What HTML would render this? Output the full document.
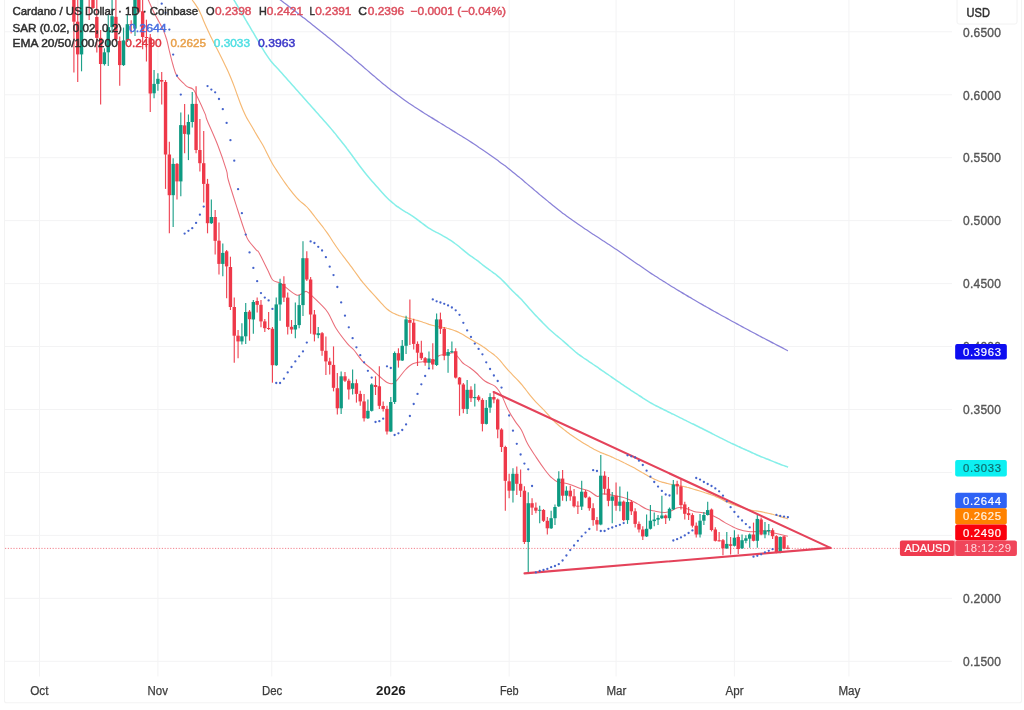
<!DOCTYPE html>
<html><head><meta charset="utf-8"><title>ADAUSD</title>
<style>
html,body{margin:0;padding:0;background:#fff;}
body{width:1024px;height:710px;overflow:hidden;position:relative;font-family:"Liberation Sans",sans-serif;}
svg{position:absolute;left:0;top:0;display:block;}
text{font-family:"Liberation Sans",sans-serif;}
</style></head><body>
<svg width="1024" height="710" viewBox="0 0 1024 710">
<defs><filter id="bl" x="-2%" y="-2%" width="104%" height="104%"><feGaussianBlur stdDeviation="0.5"/></filter>
<filter id="bt" x="-2%" y="-10%" width="104%" height="120%"><feGaussianBlur stdDeviation="0.3"/></filter></defs>
<rect x="0" y="0" width="1024" height="710" fill="#ffffff"/>

<rect x="4.5" y="-3" width="1017" height="705.8" rx="2" fill="#ffffff" stroke="#f3f3f3" stroke-width="1.1"/>
<g stroke="#f3f3f4" stroke-width="1" fill="none">
<line x1="5" y1="31.80" x2="952" y2="31.80"/>
<line x1="5" y1="94.75" x2="952" y2="94.75"/>
<line x1="5" y1="157.70" x2="952" y2="157.70"/>
<line x1="5" y1="220.65" x2="952" y2="220.65"/>
<line x1="5" y1="283.60" x2="952" y2="283.60"/>
<line x1="5" y1="346.55" x2="952" y2="346.55"/>
<line x1="5" y1="409.50" x2="952" y2="409.50"/>
<line x1="5" y1="472.45" x2="952" y2="472.45"/>
<line x1="5" y1="535.40" x2="952" y2="535.40"/>
<line x1="5" y1="598.35" x2="952" y2="598.35"/>
<line x1="5" y1="661.30" x2="952" y2="661.30"/>
<line x1="39.54" y1="0" x2="39.54" y2="676.5"/>
<line x1="157.90" y1="0" x2="157.90" y2="676.5"/>
<line x1="271.80" y1="0" x2="271.80" y2="676.5"/>
<line x1="390.79" y1="0" x2="390.79" y2="676.5"/>
<line x1="509.15" y1="0" x2="509.15" y2="676.5"/>
<line x1="616.06" y1="0" x2="616.06" y2="676.5"/>
<line x1="734.41" y1="0" x2="734.41" y2="676.5"/>
<line x1="848.95" y1="0" x2="848.95" y2="676.5"/>
</g>
<g filter="url(#bl)">
<path d="M274.0,-5.0C274.8,-4.3 277.3,-2.4 279.0,-1.1C280.7,0.2 282.3,1.4 284.0,2.7C285.7,3.9 287.3,5.2 289.0,6.5C290.7,7.7 292.3,9.0 294.0,10.3C295.7,11.6 297.3,12.9 299.0,14.2C300.7,15.5 302.3,16.8 304.0,18.1C305.7,19.4 307.3,20.7 309.0,22.0C310.7,23.3 312.3,24.6 314.0,25.9C315.7,27.3 317.3,28.6 319.0,29.9C320.7,31.3 322.3,32.6 324.0,34.0C325.7,35.3 327.3,36.7 329.0,38.0C330.7,39.4 332.3,40.7 334.0,42.1C335.7,43.5 337.3,44.8 339.0,46.2C340.7,47.6 342.3,49.0 344.0,50.4C345.7,51.8 347.3,53.2 349.0,54.6C350.7,56.0 352.3,57.4 354.0,58.9C355.7,60.3 357.3,61.7 359.0,63.2C360.7,64.6 362.3,66.0 364.0,67.5C365.7,68.9 367.3,70.4 369.0,71.8C370.7,73.2 372.3,74.7 374.0,76.1C375.7,77.5 377.3,78.9 379.0,80.3C380.7,81.7 382.3,83.1 384.0,84.5C385.7,85.8 387.3,87.1 389.0,88.4C390.7,89.8 392.3,91.0 394.0,92.3C395.7,93.6 397.3,94.8 399.0,96.0C400.7,97.3 402.3,98.5 404.0,99.7C405.7,100.9 407.3,102.0 409.0,103.2C410.7,104.3 412.3,105.4 414.0,106.6C415.7,107.7 417.3,108.8 419.0,109.8C420.7,110.9 422.3,111.9 424.0,113.0C425.7,114.0 427.3,115.1 429.0,116.1C430.7,117.1 432.3,118.1 434.0,119.1C435.7,120.1 437.3,121.2 439.0,122.2C440.7,123.2 442.3,124.2 444.0,125.2C445.7,126.3 447.3,127.3 449.0,128.3C450.7,129.3 452.3,130.4 454.0,131.4C455.7,132.4 457.3,133.5 459.0,134.5C460.7,135.5 462.3,136.6 464.0,137.6C465.7,138.7 467.3,139.8 469.0,140.8C470.7,141.9 472.3,142.9 474.0,144.0C475.7,145.1 477.3,146.2 479.0,147.4C480.7,148.5 482.3,149.6 484.0,150.8C485.7,151.9 487.3,153.1 489.0,154.2C490.7,155.4 492.3,156.6 494.0,157.8C495.7,159.0 497.3,160.2 499.0,161.4C500.7,162.6 502.3,163.8 504.0,165.1C505.7,166.3 507.3,167.6 509.0,168.9C510.7,170.2 512.3,171.6 514.0,172.9C515.7,174.3 517.3,175.7 519.0,177.0C520.7,178.4 522.3,179.8 524.0,181.2C525.7,182.6 527.3,184.1 529.0,185.5C530.7,186.9 532.3,188.3 534.0,189.7C535.7,191.1 537.3,192.5 539.0,193.9C540.7,195.3 542.3,196.7 544.0,198.1C545.7,199.4 547.3,200.8 549.0,202.2C550.7,203.5 552.3,204.9 554.0,206.2C555.7,207.6 557.3,208.9 559.0,210.2C560.7,211.5 562.3,212.8 564.0,214.1C565.7,215.3 567.3,216.6 569.0,217.8C570.7,219.0 572.3,220.2 574.0,221.3C575.7,222.5 577.3,223.7 579.0,224.8C580.7,226.0 582.3,227.1 584.0,228.2C585.7,229.3 587.3,230.4 589.0,231.5C590.7,232.6 592.3,233.7 594.0,234.8C595.7,235.9 597.3,237.0 599.0,238.0C600.7,239.1 602.3,240.2 604.0,241.3C605.7,242.4 607.3,243.5 609.0,244.6C610.7,245.7 612.3,246.8 614.0,247.9C615.7,249.0 617.3,250.2 619.0,251.3C620.7,252.4 622.3,253.6 624.0,254.7C625.7,255.9 627.3,257.0 629.0,258.2C630.7,259.4 632.3,260.5 634.0,261.7C635.7,262.8 637.3,264.0 639.0,265.1C640.7,266.3 642.3,267.4 644.0,268.6C645.7,269.7 647.3,270.8 649.0,271.9C650.7,273.1 652.3,274.2 654.0,275.2C655.7,276.3 657.3,277.4 659.0,278.5C660.7,279.5 662.3,280.6 664.0,281.6C665.7,282.7 667.3,283.7 669.0,284.7C670.7,285.8 672.3,286.8 674.0,287.8C675.7,288.9 677.3,289.9 679.0,290.9C680.7,291.9 682.3,292.9 684.0,293.9C685.7,294.9 687.3,295.9 689.0,296.9C690.7,297.8 692.3,298.8 694.0,299.8C695.7,300.8 697.3,301.7 699.0,302.7C700.7,303.7 702.3,304.6 704.0,305.6C705.7,306.5 707.3,307.5 709.0,308.4C710.7,309.4 712.3,310.3 714.0,311.3C715.7,312.2 717.3,313.1 719.0,314.0C720.7,315.0 722.3,315.9 724.0,316.8C725.7,317.7 727.3,318.6 729.0,319.5C730.7,320.5 732.3,321.4 734.0,322.3C735.7,323.2 737.3,324.1 739.0,325.0C740.7,325.9 742.3,326.8 744.0,327.7C745.7,328.6 747.3,329.5 749.0,330.4C750.7,331.3 752.3,332.1 754.0,333.0C755.7,333.9 757.3,334.8 759.0,335.7C760.7,336.6 762.3,337.5 764.0,338.3C765.7,339.2 767.3,340.1 769.0,340.9C770.7,341.8 772.3,342.7 774.0,343.5C775.7,344.4 777.3,345.3 779.0,346.1C780.7,347.0 782.5,347.9 784.0,348.7C785.5,349.5 787.2,350.5 787.9,350.9" fill="none" stroke="#8a82d8" stroke-width="1.25"/>
<path d="M231.0,-5.0C231.7,-3.9 233.7,-0.5 235.0,1.7C236.3,4.0 237.7,6.2 239.0,8.5C240.3,10.7 241.7,13.0 243.0,15.2C244.3,17.5 245.7,19.8 247.0,22.0C248.3,24.3 249.7,26.5 251.0,28.8C252.3,31.1 253.7,33.3 255.0,35.6C256.3,37.9 257.7,40.2 259.0,42.4C260.3,44.7 261.7,47.1 263.0,49.3C264.3,51.5 265.7,53.7 267.0,55.6C268.3,57.6 269.7,59.5 271.0,61.2C272.3,62.8 273.7,64.3 275.0,65.8C276.3,67.3 277.7,68.6 279.0,70.0C280.3,71.5 281.7,72.9 283.0,74.4C284.3,75.9 285.7,77.4 287.0,78.9C288.3,80.4 289.7,81.9 291.0,83.4C292.3,84.9 293.7,86.4 295.0,87.9C296.3,89.4 297.7,90.9 299.0,92.4C300.3,93.9 301.7,95.4 303.0,96.9C304.3,98.4 305.7,100.0 307.0,101.5C308.3,103.0 309.7,104.5 311.0,106.0C312.3,107.5 313.7,109.0 315.0,110.4C316.3,111.9 317.7,113.4 319.0,114.9C320.3,116.4 321.7,117.9 323.0,119.4C324.3,120.9 325.7,122.4 327.0,123.9C328.3,125.4 329.7,127.0 331.0,128.6C332.3,130.2 333.7,131.8 335.0,133.4C336.3,135.1 337.7,136.8 339.0,138.5C340.3,140.1 341.7,141.8 343.0,143.5C344.3,145.2 345.7,146.8 347.0,148.6C348.3,150.3 349.7,152.1 351.0,154.0C352.3,155.8 353.7,157.6 355.0,159.5C356.3,161.3 357.7,163.2 359.0,165.0C360.3,166.8 361.7,168.6 363.0,170.3C364.3,172.0 365.7,173.7 367.0,175.3C368.3,176.9 369.7,178.5 371.0,180.0C372.3,181.5 373.7,182.9 375.0,184.4C376.3,185.9 377.7,187.4 379.0,188.9C380.3,190.4 381.7,192.0 383.0,193.4C384.3,194.9 385.7,196.4 387.0,197.7C388.3,199.0 389.7,200.3 391.0,201.4C392.3,202.6 393.7,203.7 395.0,204.8C396.3,205.8 397.7,206.8 399.0,207.7C400.3,208.7 401.7,209.6 403.0,210.4C404.3,211.2 405.7,211.9 407.0,212.7C408.3,213.5 409.7,214.3 411.0,215.2C412.3,216.0 413.7,216.9 415.0,217.9C416.3,218.8 417.7,219.9 419.0,220.9C420.3,221.9 421.7,222.9 423.0,223.9C424.3,224.9 425.7,225.9 427.0,226.8C428.3,227.8 429.7,228.6 431.0,229.4C432.3,230.2 433.7,230.9 435.0,231.6C436.3,232.3 437.7,232.9 439.0,233.6C440.3,234.3 441.7,235.0 443.0,235.8C444.3,236.5 445.7,237.4 447.0,238.2C448.3,239.0 449.7,239.8 451.0,240.7C452.3,241.6 453.7,242.5 455.0,243.5C456.3,244.4 457.7,245.5 459.0,246.5C460.3,247.6 461.7,248.8 463.0,249.9C464.3,251.0 465.7,252.1 467.0,253.1C468.3,254.2 469.7,255.2 471.0,256.2C472.3,257.1 473.7,258.0 475.0,259.0C476.3,260.0 477.7,260.9 479.0,261.9C480.3,263.0 481.7,264.0 483.0,265.1C484.3,266.1 485.7,267.2 487.0,268.1C488.3,269.1 489.7,270.0 491.0,271.0C492.3,271.9 493.7,272.8 495.0,273.8C496.3,274.9 497.7,275.9 499.0,277.1C500.3,278.2 501.7,279.5 503.0,280.9C504.3,282.2 505.7,283.7 507.0,285.1C508.3,286.5 509.7,287.9 511.0,289.3C512.3,290.7 513.7,292.0 515.0,293.3C516.3,294.6 517.7,295.7 519.0,297.1C520.3,298.4 521.7,299.7 523.0,301.2C524.3,302.6 525.7,304.2 527.0,305.7C528.3,307.3 529.7,308.9 531.0,310.3C532.3,311.8 533.7,313.3 535.0,314.7C536.3,316.1 537.7,317.5 539.0,318.9C540.3,320.2 541.7,321.6 543.0,323.0C544.3,324.3 545.7,325.7 547.0,327.0C548.3,328.3 549.7,329.6 551.0,330.8C552.3,332.0 553.7,333.2 555.0,334.3C556.3,335.4 557.7,336.4 559.0,337.5C560.3,338.6 561.7,339.7 563.0,340.9C564.3,342.0 565.7,343.2 567.0,344.4C568.3,345.6 569.7,346.8 571.0,348.0C572.3,349.2 573.7,350.4 575.0,351.5C576.3,352.6 577.7,353.6 579.0,354.7C580.3,355.7 581.7,356.6 583.0,357.5C584.3,358.5 585.7,359.3 587.0,360.2C588.3,361.1 589.7,362.0 591.0,362.9C592.3,363.8 593.7,364.7 595.0,365.6C596.3,366.5 597.7,367.4 599.0,368.3C600.3,369.3 601.7,370.2 603.0,371.1C604.3,372.0 605.7,372.9 607.0,373.9C608.3,374.8 609.7,375.7 611.0,376.6C612.3,377.6 613.7,378.5 615.0,379.4C616.3,380.3 617.7,381.3 619.0,382.2C620.3,383.1 621.7,384.0 623.0,384.9C624.3,385.9 625.7,386.7 627.0,387.6C628.3,388.5 629.7,389.4 631.0,390.3C632.3,391.1 633.7,392.0 635.0,392.9C636.3,393.7 637.7,394.6 639.0,395.5C640.3,396.3 641.7,397.2 643.0,398.1C644.3,398.9 645.7,399.8 647.0,400.6C648.3,401.4 649.7,402.2 651.0,403.0C652.3,403.7 653.7,404.5 655.0,405.2C656.3,405.8 657.7,406.5 659.0,407.2C660.3,407.8 661.7,408.5 663.0,409.2C664.3,409.8 665.7,410.5 667.0,411.2C668.3,411.8 669.7,412.5 671.0,413.2C672.3,413.8 673.7,414.5 675.0,415.1C676.3,415.8 677.7,416.5 679.0,417.1C680.3,417.8 681.7,418.4 683.0,419.1C684.3,419.8 685.7,420.4 687.0,421.1C688.3,421.7 689.7,422.4 691.0,423.1C692.3,423.7 693.7,424.4 695.0,425.0C696.3,425.7 697.7,426.4 699.0,427.0C700.3,427.7 701.7,428.3 703.0,429.0C704.3,429.7 705.7,430.4 707.0,431.0C708.3,431.7 709.7,432.4 711.0,433.0C712.3,433.7 713.7,434.4 715.0,435.1C716.3,435.7 717.7,436.4 719.0,437.1C720.3,437.8 721.7,438.4 723.0,439.1C724.3,439.8 725.7,440.5 727.0,441.1C728.3,441.8 729.7,442.4 731.0,443.1C732.3,443.7 733.7,444.3 735.0,444.9C736.3,445.6 737.7,446.2 739.0,446.8C740.3,447.4 741.7,448.0 743.0,448.6C744.3,449.2 745.7,449.8 747.0,450.4C748.3,451.0 749.7,451.6 751.0,452.2C752.3,452.8 753.7,453.4 755.0,454.0C756.3,454.6 757.7,455.2 759.0,455.7C760.3,456.3 761.7,456.9 763.0,457.4C764.3,458.0 765.7,458.5 767.0,459.0C768.3,459.5 769.7,460.1 771.0,460.6C772.3,461.2 773.7,461.7 775.0,462.2C776.3,462.8 777.7,463.3 779.0,463.8C780.3,464.4 781.7,465.0 783.0,465.4C784.3,465.9 786.2,466.3 787.0,466.6C787.8,467.0 787.8,467.3 787.9,467.4" fill="none" stroke="#86efe9" stroke-width="1.5"/>
<path d="M189.0,-6.0C189.5,-5.1 191.0,-2.2 192.0,-0.5C193.0,1.1 194.0,2.4 195.0,3.9C196.0,5.4 197.0,6.7 198.0,8.4C199.0,10.2 200.0,12.3 201.0,14.5C202.0,16.7 203.0,19.4 204.0,21.7C205.0,24.1 206.0,26.4 207.0,28.6C208.0,30.8 209.0,32.9 210.0,34.9C211.0,37.0 212.0,38.9 213.0,40.9C214.0,42.9 215.0,44.9 216.0,46.9C217.0,48.9 218.0,50.8 219.0,52.8C220.0,54.8 221.0,56.7 222.0,58.8C223.0,60.8 224.0,62.9 225.0,65.0C226.0,67.0 227.0,69.1 228.0,71.3C229.0,73.5 230.0,75.9 231.0,78.3C232.0,80.7 233.0,83.2 234.0,85.9C235.0,88.5 236.0,91.4 237.0,94.2C238.0,96.9 239.0,99.8 240.0,102.5C241.0,105.1 242.0,107.6 243.0,110.0C244.0,112.3 245.0,114.5 246.0,116.4C247.0,118.4 248.0,120.0 249.0,121.7C250.0,123.4 251.0,125.1 252.0,126.8C253.0,128.5 254.0,130.2 255.0,132.0C256.0,133.7 257.0,135.4 258.0,137.1C259.0,138.8 260.0,140.3 261.0,142.0C262.0,143.7 263.0,145.3 264.0,147.2C265.0,149.1 266.0,151.2 267.0,153.2C268.0,155.2 269.0,157.3 270.0,159.3C271.0,161.2 272.0,163.1 273.0,164.8C274.0,166.5 275.0,167.9 276.0,169.4C277.0,171.0 278.0,172.5 279.0,174.0C280.0,175.6 281.0,177.1 282.0,178.5C283.0,180.0 284.0,181.5 285.0,182.9C286.0,184.3 287.0,185.7 288.0,187.0C289.0,188.4 290.0,189.6 291.0,190.9C292.0,192.2 293.0,193.5 294.0,194.7C295.0,195.9 296.0,197.1 297.0,198.2C298.0,199.3 299.0,200.3 300.0,201.1C301.0,202.0 302.0,202.7 303.0,203.5C304.0,204.3 305.0,205.1 306.0,206.1C307.0,207.0 308.0,208.1 309.0,209.3C310.0,210.5 311.0,211.9 312.0,213.1C313.0,214.4 314.0,215.8 315.0,217.0C316.0,218.3 317.0,219.6 318.0,220.9C319.0,222.1 320.0,223.4 321.0,224.7C322.0,225.9 323.0,227.1 324.0,228.5C325.0,229.8 326.0,231.2 327.0,232.6C328.0,234.0 329.0,235.5 330.0,237.0C331.0,238.5 332.0,240.1 333.0,241.7C334.0,243.2 335.0,244.7 336.0,246.2C337.0,247.7 338.0,249.1 339.0,250.5C340.0,251.9 341.0,253.2 342.0,254.5C343.0,255.9 344.0,257.1 345.0,258.4C346.0,259.8 347.0,261.1 348.0,262.4C349.0,263.7 350.0,265.1 351.0,266.4C352.0,267.8 353.0,269.1 354.0,270.5C355.0,271.9 356.0,273.3 357.0,274.7C358.0,276.1 359.0,277.5 360.0,278.8C361.0,280.2 362.0,281.4 363.0,282.7C364.0,283.9 365.0,285.1 366.0,286.2C367.0,287.4 368.0,288.5 369.0,289.6C370.0,290.7 371.0,291.8 372.0,292.9C373.0,294.0 374.0,295.1 375.0,296.2C376.0,297.3 377.0,298.4 378.0,299.5C379.0,300.6 380.0,301.7 381.0,302.8C382.0,303.9 383.0,305.1 384.0,306.1C385.0,307.1 386.0,308.1 387.0,309.0C388.0,309.8 389.0,310.6 390.0,311.3C391.0,311.9 392.0,312.4 393.0,313.0C394.0,313.5 395.0,314.0 396.0,314.4C397.0,314.8 398.0,315.2 399.0,315.6C400.0,315.9 401.0,316.2 402.0,316.5C403.0,316.8 404.0,317.0 405.0,317.3C406.0,317.5 407.0,317.8 408.0,318.0C409.0,318.3 410.0,318.5 411.0,318.8C412.0,319.1 413.0,319.3 414.0,319.6C415.0,319.9 416.0,320.1 417.0,320.4C418.0,320.7 419.0,321.0 420.0,321.2C421.0,321.5 422.0,321.8 423.0,322.2C424.0,322.5 425.0,322.9 426.0,323.2C427.0,323.6 428.0,324.0 429.0,324.4C430.0,324.7 431.0,325.0 432.0,325.3C433.0,325.6 434.0,325.8 435.0,326.0C436.0,326.2 437.0,326.4 438.0,326.5C439.0,326.7 440.0,326.8 441.0,327.0C442.0,327.2 443.0,327.3 444.0,327.5C445.0,327.8 446.0,328.0 447.0,328.3C448.0,328.5 449.0,328.8 450.0,329.1C451.0,329.4 452.0,329.7 453.0,330.0C454.0,330.3 455.0,330.7 456.0,331.1C457.0,331.5 458.0,331.9 459.0,332.4C460.0,332.9 461.0,333.5 462.0,334.1C463.0,334.6 464.0,335.3 465.0,335.9C466.0,336.5 467.0,337.1 468.0,337.7C469.0,338.3 470.0,338.9 471.0,339.5C472.0,340.1 473.0,340.7 474.0,341.3C475.0,341.9 476.0,342.4 477.0,343.0C478.0,343.6 479.0,344.2 480.0,344.8C481.0,345.4 482.0,346.1 483.0,346.8C484.0,347.4 485.0,348.1 486.0,348.8C487.0,349.6 488.0,350.3 489.0,351.1C490.0,351.8 491.0,352.5 492.0,353.3C493.0,354.0 494.0,354.7 495.0,355.6C496.0,356.4 497.0,357.3 498.0,358.3C499.0,359.3 500.0,360.5 501.0,361.6C502.0,362.8 503.0,364.2 504.0,365.4C505.0,366.6 506.0,367.8 507.0,368.9C508.0,370.1 509.0,371.2 510.0,372.2C511.0,373.3 512.0,374.3 513.0,375.3C514.0,376.3 515.0,377.3 516.0,378.3C517.0,379.3 518.0,380.4 519.0,381.5C520.0,382.6 521.0,383.7 522.0,384.9C523.0,386.2 524.0,387.4 525.0,388.7C526.0,390.0 527.0,391.4 528.0,392.6C529.0,393.9 530.0,395.2 531.0,396.4C532.0,397.6 533.0,398.8 534.0,399.9C535.0,401.0 536.0,402.1 537.0,403.1C538.0,404.1 539.0,405.1 540.0,406.1C541.0,407.1 542.0,408.1 543.0,409.2C544.0,410.2 545.0,411.3 546.0,412.4C547.0,413.5 548.0,414.6 549.0,415.7C550.0,416.8 551.0,418.0 552.0,419.0C553.0,420.1 554.0,421.1 555.0,422.1C556.0,423.0 557.0,424.0 558.0,424.8C559.0,425.7 560.0,426.4 561.0,427.2C562.0,428.0 563.0,428.9 564.0,429.6C565.0,430.4 566.0,431.2 567.0,432.0C568.0,432.7 569.0,433.4 570.0,434.2C571.0,434.9 572.0,435.6 573.0,436.3C574.0,437.0 575.0,437.7 576.0,438.3C577.0,439.0 578.0,439.7 579.0,440.3C580.0,441.0 581.0,441.6 582.0,442.2C583.0,442.9 584.0,443.4 585.0,444.0C586.0,444.6 587.0,445.2 588.0,445.8C589.0,446.4 590.0,446.9 591.0,447.5C592.0,448.1 593.0,448.7 594.0,449.3C595.0,449.8 596.0,450.4 597.0,450.8C598.0,451.3 599.0,451.8 600.0,452.2C601.0,452.7 602.0,453.0 603.0,453.4C604.0,453.8 605.0,454.2 606.0,454.6C607.0,455.0 608.0,455.4 609.0,455.8C610.0,456.3 611.0,456.7 612.0,457.1C613.0,457.6 614.0,458.0 615.0,458.5C616.0,458.9 617.0,459.4 618.0,459.8C619.0,460.3 620.0,460.7 621.0,461.2C622.0,461.7 623.0,462.2 624.0,462.7C625.0,463.1 626.0,463.7 627.0,464.2C628.0,464.6 629.0,465.1 630.0,465.7C631.0,466.2 632.0,466.7 633.0,467.2C634.0,467.8 635.0,468.3 636.0,468.9C637.0,469.5 638.0,470.1 639.0,470.7C640.0,471.3 641.0,471.9 642.0,472.5C643.0,473.1 644.0,473.6 645.0,474.2C646.0,474.8 647.0,475.3 648.0,475.9C649.0,476.4 650.0,476.9 651.0,477.4C652.0,477.9 653.0,478.4 654.0,478.9C655.0,479.4 656.0,479.9 657.0,480.3C658.0,480.8 659.0,481.2 660.0,481.5C661.0,481.9 662.0,482.1 663.0,482.4C664.0,482.7 665.0,482.9 666.0,483.1C667.0,483.4 668.0,483.6 669.0,483.9C670.0,484.1 671.0,484.3 672.0,484.5C673.0,484.7 674.0,484.9 675.0,485.0C676.0,485.2 677.0,485.3 678.0,485.5C679.0,485.6 680.0,485.8 681.0,485.9C682.0,486.1 683.0,486.3 684.0,486.5C685.0,486.8 686.0,487.0 687.0,487.3C688.0,487.5 689.0,487.8 690.0,488.1C691.0,488.4 692.0,488.7 693.0,489.0C694.0,489.3 695.0,489.6 696.0,489.9C697.0,490.2 698.0,490.5 699.0,490.8C700.0,491.1 701.0,491.4 702.0,491.7C703.0,492.0 704.0,492.3 705.0,492.7C706.0,493.0 707.0,493.3 708.0,493.6C709.0,494.0 710.0,494.3 711.0,494.7C712.0,495.1 713.0,495.4 714.0,495.8C715.0,496.2 716.0,496.7 717.0,497.1C718.0,497.6 719.0,498.1 720.0,498.6C721.0,499.1 722.0,499.6 723.0,500.1C724.0,500.6 725.0,501.1 726.0,501.6C727.0,502.0 728.0,502.5 729.0,502.9C730.0,503.3 731.0,503.7 732.0,504.1C733.0,504.5 734.0,504.9 735.0,505.3C736.0,505.6 737.0,506.0 738.0,506.3C739.0,506.7 740.0,507.0 741.0,507.3C742.0,507.6 743.0,507.9 744.0,508.2C745.0,508.5 746.0,508.8 747.0,509.1C748.0,509.4 749.0,509.6 750.0,509.9C751.0,510.1 752.0,510.3 753.0,510.5C754.0,510.7 755.0,510.8 756.0,510.9C757.0,511.1 758.0,511.3 759.0,511.4C760.0,511.6 761.0,511.8 762.0,511.9C763.0,512.1 764.0,512.3 765.0,512.6C766.0,512.8 767.0,513.0 768.0,513.2C769.0,513.5 770.0,513.7 771.0,513.9C772.0,514.2 773.0,514.4 774.0,514.7C775.0,514.9 776.0,515.2 777.0,515.5C778.0,515.8 779.0,516.1 780.0,516.4C781.0,516.8 782.0,517.1 783.0,517.4C784.0,517.7 785.2,518.0 786.0,518.3C786.8,518.5 787.6,518.9 787.9,519.0" fill="none" stroke="#f6b974" stroke-width="1.15"/>
<path d="M146.0,-5.0C146.4,-4.2 146.8,-3.3 148.3,0.0C149.8,3.3 152.7,9.9 155.2,14.8C157.7,19.7 161.2,25.4 163.1,29.6C165.0,33.8 165.8,36.7 166.8,40.0C167.8,43.3 168.0,45.1 169.0,49.3C170.0,53.5 171.7,60.5 173.0,65.0C174.3,69.5 175.0,72.8 176.9,76.0C178.8,79.2 182.5,82.2 184.3,84.0C186.1,85.8 186.1,86.0 187.6,86.9C189.1,87.8 191.5,87.6 193.2,89.4C194.9,91.2 195.6,93.5 197.6,97.6C199.6,101.7 203.5,110.2 205.1,113.9C206.7,117.6 204.9,114.8 207.0,120.0C209.1,125.2 214.5,136.7 217.7,145.0C220.9,153.3 224.6,164.3 226.4,170.1C228.2,175.9 226.4,173.3 228.3,180.0C230.2,186.7 234.9,201.2 237.7,210.0C240.5,218.8 243.4,227.6 245.2,232.6C246.9,237.6 246.3,237.1 248.2,240.0C250.1,242.9 254.7,248.1 256.5,250.2C258.3,252.3 257.0,249.2 258.9,252.5C260.8,255.8 265.4,265.4 267.7,270.0C270.0,274.6 270.6,277.8 272.7,280.0C274.8,282.2 277.7,281.7 280.2,283.2C282.7,284.7 285.0,286.9 287.7,288.9C290.4,290.9 294.2,294.2 296.5,295.0C298.8,295.8 299.8,294.5 301.5,293.9C303.2,293.3 304.7,291.0 306.5,291.4C308.3,291.8 310.2,294.2 312.5,296.3C314.8,298.4 317.7,301.2 320.3,303.9C322.9,306.6 325.3,308.5 328.0,312.7C330.7,316.9 333.0,323.6 336.3,328.8C339.6,334.0 344.7,340.4 347.6,343.9C350.5,347.4 351.4,347.1 353.9,350.0C356.4,352.9 359.5,358.0 362.6,361.3C365.7,364.6 369.8,367.4 372.7,370.0C375.6,372.6 377.7,374.9 380.2,377.0C382.7,379.1 385.6,381.7 387.7,382.8C389.8,383.9 391.0,384.2 392.7,383.6C394.4,383.0 395.6,381.7 397.7,379.4C399.8,377.1 402.7,372.6 405.2,370.0C407.7,367.4 409.9,365.2 412.8,363.8C415.7,362.4 419.4,362.2 422.8,361.8C426.2,361.4 430.3,362.7 433.0,361.7C435.7,360.7 436.8,357.0 438.8,355.8C440.8,354.6 442.5,355.0 445.0,354.5C447.5,354.0 451.9,352.6 453.8,352.7C455.7,352.8 455.0,353.6 456.3,355.0C457.6,356.4 460.1,359.9 461.4,361.4C462.7,362.9 462.5,362.8 463.9,363.8C465.3,364.9 467.9,366.2 470.0,367.7C472.1,369.2 473.9,370.7 476.4,373.0C478.9,375.3 482.1,379.1 485.2,381.3C488.3,383.5 492.5,384.0 495.2,386.3C497.9,388.6 499.4,391.2 501.5,395.0C503.6,398.8 505.4,404.5 507.7,408.9C510.0,413.3 512.9,417.9 515.2,421.4C517.5,424.9 519.3,426.3 521.4,430.0C523.5,433.7 525.1,439.2 527.6,443.8C530.1,448.4 533.5,453.2 536.4,457.6C539.3,462.0 542.7,466.9 545.2,470.2C547.7,473.5 549.3,475.6 551.4,477.5C553.5,479.4 555.0,480.8 557.7,481.9C560.4,482.9 563.9,482.7 567.7,483.8C571.5,484.9 576.8,487.3 580.3,488.5C583.8,489.7 586.1,489.7 589.0,491.0C591.9,492.3 595.2,495.9 597.5,496.4C599.8,496.9 599.6,494.0 602.5,493.9C605.4,493.8 610.8,495.0 615.0,495.8C619.2,496.6 623.8,497.5 627.6,498.9C631.4,500.2 634.5,502.2 637.6,503.9C640.7,505.6 643.5,507.7 646.4,508.9C649.3,510.1 652.1,510.6 655.2,511.2C658.3,511.8 662.5,512.5 665.2,512.4C667.9,512.3 669.4,511.6 671.5,510.8C673.6,510.0 675.4,508.1 677.7,507.7C680.0,507.3 682.5,507.7 685.2,508.3C687.9,508.9 691.1,510.7 694.0,511.4C696.9,512.1 700.1,512.2 702.8,512.7C705.5,513.2 707.8,513.6 710.3,514.5C712.8,515.4 715.5,516.9 718.0,518.3C720.5,519.6 721.7,520.8 725.0,522.6C728.3,524.4 733.4,527.4 737.6,528.9C741.8,530.4 746.7,531.3 750.0,531.7C753.3,532.1 755.1,531.5 757.6,531.4C760.1,531.2 762.3,530.5 765.2,530.8C768.1,531.1 771.4,532.4 775.2,533.3C779.0,534.2 785.8,535.7 787.9,536.2" fill="none" stroke="#ea6e7a" stroke-width="1.05"/>
<line x1="5" y1="548.4" x2="900" y2="548.4" stroke="#ef5b69" stroke-width="1.0" stroke-dasharray="1.2 1.6" opacity="0.75"/>
<line x1="73.90" y1="0.0" x2="73.90" y2="72.6" stroke="#ee3848" stroke-width="1.15" opacity="0.93"/>
<rect x="72.20" y="0.0" width="3.4" height="21.7" fill="#ee3848"/>
<line x1="77.72" y1="0.0" x2="77.72" y2="82.0" stroke="#ee3848" stroke-width="1.15" opacity="0.93"/>
<rect x="76.02" y="21.7" width="3.4" height="32.7" fill="#ee3848"/>
<line x1="81.54" y1="0.0" x2="81.54" y2="71.3" stroke="#0f9a82" stroke-width="1.15" opacity="0.93"/>
<rect x="79.84" y="0.0" width="3.4" height="54.4" fill="#0f9a82"/>
<line x1="89.17" y1="0.0" x2="89.17" y2="20.0" stroke="#ee3848" stroke-width="1.15" opacity="0.93"/>
<line x1="92.99" y1="0.0" x2="92.99" y2="9.0" stroke="#ee3848" stroke-width="1.15" opacity="0.93"/>
<rect x="91.29" y="0.0" width="3.4" height="8.0" fill="#ee3848"/>
<line x1="96.81" y1="0.0" x2="96.81" y2="52.5" stroke="#ee3848" stroke-width="1.15" opacity="0.93"/>
<rect x="95.11" y="17.0" width="3.4" height="20.9" fill="#ee3848"/>
<line x1="100.63" y1="30.0" x2="100.63" y2="104.5" stroke="#ee3848" stroke-width="1.15" opacity="0.93"/>
<rect x="98.93" y="37.9" width="3.4" height="26.1" fill="#ee3848"/>
<line x1="104.44" y1="48.3" x2="104.44" y2="65.5" stroke="#0f9a82" stroke-width="1.15" opacity="0.93"/>
<rect x="102.74" y="52.3" width="3.4" height="11.8" fill="#0f9a82"/>
<line x1="108.26" y1="14.8" x2="108.26" y2="66.0" stroke="#0f9a82" stroke-width="1.15" opacity="0.93"/>
<rect x="106.56" y="27.1" width="3.4" height="25.2" fill="#0f9a82"/>
<line x1="112.08" y1="0.0" x2="112.08" y2="33.0" stroke="#0f9a82" stroke-width="1.15" opacity="0.93"/>
<rect x="110.38" y="16.3" width="3.4" height="10.8" fill="#0f9a82"/>
<line x1="115.90" y1="0.0" x2="115.90" y2="41.5" stroke="#ee3848" stroke-width="1.15" opacity="0.93"/>
<rect x="114.20" y="16.8" width="3.4" height="22.6" fill="#ee3848"/>
<line x1="119.72" y1="36.5" x2="119.72" y2="85.7" stroke="#ee3848" stroke-width="1.15" opacity="0.93"/>
<rect x="118.02" y="40.9" width="3.4" height="24.2" fill="#ee3848"/>
<line x1="123.53" y1="27.6" x2="123.53" y2="66.0" stroke="#0f9a82" stroke-width="1.15" opacity="0.93"/>
<rect x="121.83" y="40.4" width="3.4" height="24.7" fill="#0f9a82"/>
<line x1="127.35" y1="14.8" x2="127.35" y2="42.0" stroke="#0f9a82" stroke-width="1.15" opacity="0.93"/>
<rect x="125.65" y="24.2" width="3.4" height="16.2" fill="#0f9a82"/>
<line x1="131.17" y1="20.2" x2="131.17" y2="33.5" stroke="#ee3848" stroke-width="1.15" opacity="0.93"/>
<rect x="129.47" y="24.0" width="3.4" height="1.0" fill="#ee3848"/>
<line x1="134.99" y1="0.0" x2="134.99" y2="36.0" stroke="#0f9a82" stroke-width="1.15" opacity="0.93"/>
<rect x="133.29" y="0.0" width="3.4" height="28.6" fill="#0f9a82"/>
<line x1="138.81" y1="0.0" x2="138.81" y2="13.0" stroke="#ee3848" stroke-width="1.15" opacity="0.93"/>
<rect x="137.11" y="0.0" width="3.4" height="11.8" fill="#ee3848"/>
<line x1="142.62" y1="0.0" x2="142.62" y2="49.3" stroke="#ee3848" stroke-width="1.15" opacity="0.93"/>
<rect x="140.92" y="11.3" width="3.4" height="25.7" fill="#ee3848"/>
<line x1="146.44" y1="19.7" x2="146.44" y2="61.5" stroke="#ee3848" stroke-width="1.15" opacity="0.93"/>
<rect x="144.74" y="37.0" width="3.4" height="1.0" fill="#ee3848"/>
<line x1="150.26" y1="34.0" x2="150.26" y2="112.0" stroke="#ee3848" stroke-width="1.15" opacity="0.93"/>
<rect x="148.56" y="37.5" width="3.4" height="56.0" fill="#ee3848"/>
<line x1="154.08" y1="70.0" x2="154.08" y2="98.3" stroke="#0f9a82" stroke-width="1.15" opacity="0.93"/>
<rect x="152.38" y="83.9" width="3.4" height="9.4" fill="#0f9a82"/>
<line x1="157.90" y1="73.2" x2="157.90" y2="90.8" stroke="#0f9a82" stroke-width="1.15" opacity="0.93"/>
<rect x="156.20" y="78.8" width="3.4" height="5.1" fill="#0f9a82"/>
<line x1="161.71" y1="72.0" x2="161.71" y2="104.5" stroke="#ee3848" stroke-width="1.15" opacity="0.93"/>
<rect x="160.01" y="80.0" width="3.4" height="1.6" fill="#ee3848"/>
<line x1="165.53" y1="80.0" x2="165.53" y2="188.9" stroke="#ee3848" stroke-width="1.15" opacity="0.93"/>
<rect x="163.83" y="82.0" width="3.4" height="72.5" fill="#ee3848"/>
<line x1="169.35" y1="141.7" x2="169.35" y2="233.3" stroke="#ee3848" stroke-width="1.15" opacity="0.93"/>
<rect x="167.65" y="154.5" width="3.4" height="40.7" fill="#ee3848"/>
<line x1="173.17" y1="158.2" x2="173.17" y2="227.0" stroke="#0f9a82" stroke-width="1.15" opacity="0.93"/>
<rect x="171.47" y="163.9" width="3.4" height="31.3" fill="#0f9a82"/>
<line x1="176.99" y1="163.0" x2="176.99" y2="199.5" stroke="#ee3848" stroke-width="1.15" opacity="0.93"/>
<rect x="175.29" y="163.9" width="3.4" height="17.5" fill="#ee3848"/>
<line x1="180.80" y1="112.6" x2="180.80" y2="196.3" stroke="#0f9a82" stroke-width="1.15" opacity="0.93"/>
<rect x="179.10" y="125.1" width="3.4" height="56.3" fill="#0f9a82"/>
<line x1="184.62" y1="103.9" x2="184.62" y2="153.2" stroke="#ee3848" stroke-width="1.15" opacity="0.93"/>
<rect x="182.92" y="125.4" width="3.4" height="8.5" fill="#ee3848"/>
<line x1="188.44" y1="114.5" x2="188.44" y2="160.1" stroke="#0f9a82" stroke-width="1.15" opacity="0.93"/>
<rect x="186.74" y="122.0" width="3.4" height="12.5" fill="#0f9a82"/>
<line x1="192.26" y1="92.0" x2="192.26" y2="127.6" stroke="#0f9a82" stroke-width="1.15" opacity="0.93"/>
<rect x="190.56" y="103.9" width="3.4" height="18.1" fill="#0f9a82"/>
<line x1="196.08" y1="86.3" x2="196.08" y2="153.2" stroke="#ee3848" stroke-width="1.15" opacity="0.93"/>
<rect x="194.38" y="103.9" width="3.4" height="46.1" fill="#ee3848"/>
<line x1="199.89" y1="118.9" x2="199.89" y2="171.4" stroke="#ee3848" stroke-width="1.15" opacity="0.93"/>
<rect x="198.19" y="150.0" width="3.4" height="13.2" fill="#ee3848"/>
<line x1="203.71" y1="131.0" x2="203.71" y2="202.6" stroke="#ee3848" stroke-width="1.15" opacity="0.93"/>
<rect x="202.01" y="163.2" width="3.4" height="20.7" fill="#ee3848"/>
<line x1="207.53" y1="178.9" x2="207.53" y2="233.3" stroke="#ee3848" stroke-width="1.15" opacity="0.93"/>
<rect x="205.83" y="183.8" width="3.4" height="39.4" fill="#ee3848"/>
<line x1="211.35" y1="199.5" x2="211.35" y2="224.0" stroke="#0f9a82" stroke-width="1.15" opacity="0.93"/>
<rect x="209.65" y="217.0" width="3.4" height="6.2" fill="#0f9a82"/>
<line x1="215.17" y1="210.0" x2="215.17" y2="254.5" stroke="#ee3848" stroke-width="1.15" opacity="0.93"/>
<rect x="213.47" y="217.0" width="3.4" height="23.8" fill="#ee3848"/>
<line x1="218.98" y1="222.6" x2="218.98" y2="274.5" stroke="#ee3848" stroke-width="1.15" opacity="0.93"/>
<rect x="217.28" y="240.7" width="3.4" height="23.2" fill="#ee3848"/>
<line x1="222.80" y1="243.5" x2="222.80" y2="276.3" stroke="#0f9a82" stroke-width="1.15" opacity="0.93"/>
<rect x="221.10" y="252.9" width="3.4" height="11.0" fill="#0f9a82"/>
<line x1="226.62" y1="250.0" x2="226.62" y2="298.3" stroke="#ee3848" stroke-width="1.15" opacity="0.93"/>
<rect x="224.92" y="251.3" width="3.4" height="15.1" fill="#ee3848"/>
<line x1="230.44" y1="256.7" x2="230.44" y2="310.0" stroke="#ee3848" stroke-width="1.15" opacity="0.93"/>
<rect x="228.74" y="267.0" width="3.4" height="40.0" fill="#ee3848"/>
<line x1="234.26" y1="297.6" x2="234.26" y2="362.7" stroke="#ee3848" stroke-width="1.15" opacity="0.93"/>
<rect x="232.56" y="307.0" width="3.4" height="28.7" fill="#ee3848"/>
<line x1="238.07" y1="330.0" x2="238.07" y2="358.3" stroke="#ee3848" stroke-width="1.15" opacity="0.93"/>
<rect x="236.37" y="335.7" width="3.4" height="5.7" fill="#ee3848"/>
<line x1="241.89" y1="323.2" x2="241.89" y2="344.5" stroke="#0f9a82" stroke-width="1.15" opacity="0.93"/>
<rect x="240.19" y="336.3" width="3.4" height="5.1" fill="#0f9a82"/>
<line x1="245.71" y1="303.1" x2="245.71" y2="343.9" stroke="#0f9a82" stroke-width="1.15" opacity="0.93"/>
<rect x="244.01" y="312.0" width="3.4" height="24.3" fill="#0f9a82"/>
<line x1="249.53" y1="310.0" x2="249.53" y2="340.7" stroke="#ee3848" stroke-width="1.15" opacity="0.93"/>
<rect x="247.83" y="311.6" width="3.4" height="7.6" fill="#ee3848"/>
<line x1="253.35" y1="300.0" x2="253.35" y2="333.8" stroke="#0f9a82" stroke-width="1.15" opacity="0.93"/>
<rect x="251.65" y="302.0" width="3.4" height="17.5" fill="#0f9a82"/>
<line x1="257.16" y1="297.6" x2="257.16" y2="312.6" stroke="#ee3848" stroke-width="1.15" opacity="0.93"/>
<rect x="255.46" y="301.0" width="3.4" height="3.8" fill="#ee3848"/>
<line x1="260.98" y1="300.0" x2="260.98" y2="327.3" stroke="#ee3848" stroke-width="1.15" opacity="0.93"/>
<rect x="259.28" y="304.8" width="3.4" height="16.6" fill="#ee3848"/>
<line x1="264.80" y1="318.9" x2="264.80" y2="332.0" stroke="#ee3848" stroke-width="1.15" opacity="0.93"/>
<rect x="263.10" y="321.4" width="3.4" height="6.8" fill="#ee3848"/>
<line x1="268.62" y1="312.0" x2="268.62" y2="330.0" stroke="#ee3848" stroke-width="1.15" opacity="0.93"/>
<rect x="266.92" y="328.0" width="3.4" height="1.0" fill="#ee3848"/>
<line x1="272.44" y1="327.0" x2="272.44" y2="382.7" stroke="#ee3848" stroke-width="1.15" opacity="0.93"/>
<rect x="270.74" y="328.8" width="3.4" height="36.4" fill="#ee3848"/>
<line x1="276.25" y1="297.6" x2="276.25" y2="366.0" stroke="#0f9a82" stroke-width="1.15" opacity="0.93"/>
<rect x="274.55" y="304.4" width="3.4" height="60.8" fill="#0f9a82"/>
<line x1="280.07" y1="278.8" x2="280.07" y2="320.7" stroke="#0f9a82" stroke-width="1.15" opacity="0.93"/>
<rect x="278.37" y="283.2" width="3.4" height="21.3" fill="#0f9a82"/>
<line x1="283.89" y1="276.3" x2="283.89" y2="302.0" stroke="#ee3848" stroke-width="1.15" opacity="0.93"/>
<rect x="282.19" y="283.9" width="3.4" height="13.7" fill="#ee3848"/>
<line x1="287.71" y1="292.6" x2="287.71" y2="334.5" stroke="#ee3848" stroke-width="1.15" opacity="0.93"/>
<rect x="286.01" y="297.6" width="3.4" height="29.2" fill="#ee3848"/>
<line x1="291.53" y1="320.0" x2="291.53" y2="333.8" stroke="#ee3848" stroke-width="1.15" opacity="0.93"/>
<rect x="289.83" y="326.8" width="3.4" height="2.7" fill="#ee3848"/>
<line x1="295.34" y1="302.6" x2="295.34" y2="338.2" stroke="#0f9a82" stroke-width="1.15" opacity="0.93"/>
<rect x="293.64" y="325.0" width="3.4" height="4.5" fill="#0f9a82"/>
<line x1="299.16" y1="295.0" x2="299.16" y2="328.2" stroke="#0f9a82" stroke-width="1.15" opacity="0.93"/>
<rect x="297.46" y="305.1" width="3.4" height="20.0" fill="#0f9a82"/>
<line x1="302.98" y1="241.3" x2="302.98" y2="316.0" stroke="#0f9a82" stroke-width="1.15" opacity="0.93"/>
<rect x="301.28" y="258.2" width="3.4" height="46.9" fill="#0f9a82"/>
<line x1="306.80" y1="251.3" x2="306.80" y2="281.0" stroke="#ee3848" stroke-width="1.15" opacity="0.93"/>
<rect x="305.10" y="258.2" width="3.4" height="21.3" fill="#ee3848"/>
<line x1="310.62" y1="277.0" x2="310.62" y2="333.8" stroke="#ee3848" stroke-width="1.15" opacity="0.93"/>
<rect x="308.92" y="279.5" width="3.4" height="35.0" fill="#ee3848"/>
<line x1="314.43" y1="310.0" x2="314.43" y2="341.4" stroke="#ee3848" stroke-width="1.15" opacity="0.93"/>
<rect x="312.73" y="314.5" width="3.4" height="20.0" fill="#ee3848"/>
<line x1="318.25" y1="327.0" x2="318.25" y2="338.2" stroke="#0f9a82" stroke-width="1.15" opacity="0.93"/>
<rect x="316.55" y="333.2" width="3.4" height="1.9" fill="#0f9a82"/>
<line x1="322.07" y1="332.0" x2="322.07" y2="355.8" stroke="#ee3848" stroke-width="1.15" opacity="0.93"/>
<rect x="320.37" y="333.2" width="3.4" height="17.6" fill="#ee3848"/>
<line x1="325.89" y1="336.5" x2="325.89" y2="375.1" stroke="#ee3848" stroke-width="1.15" opacity="0.93"/>
<rect x="324.19" y="350.8" width="3.4" height="10.6" fill="#ee3848"/>
<line x1="329.71" y1="357.7" x2="329.71" y2="374.5" stroke="#ee3848" stroke-width="1.15" opacity="0.93"/>
<rect x="328.01" y="361.4" width="3.4" height="3.5" fill="#ee3848"/>
<line x1="333.52" y1="346.4" x2="333.52" y2="391.4" stroke="#ee3848" stroke-width="1.15" opacity="0.93"/>
<rect x="331.82" y="364.9" width="3.4" height="22.9" fill="#ee3848"/>
<line x1="337.34" y1="373.0" x2="337.34" y2="414.5" stroke="#ee3848" stroke-width="1.15" opacity="0.93"/>
<rect x="335.64" y="388.2" width="3.4" height="20.1" fill="#ee3848"/>
<line x1="341.16" y1="371.4" x2="341.16" y2="413.9" stroke="#0f9a82" stroke-width="1.15" opacity="0.93"/>
<rect x="339.46" y="376.3" width="3.4" height="32.0" fill="#0f9a82"/>
<line x1="344.98" y1="372.0" x2="344.98" y2="382.0" stroke="#ee3848" stroke-width="1.15" opacity="0.93"/>
<rect x="343.28" y="376.3" width="3.4" height="4.4" fill="#ee3848"/>
<line x1="348.80" y1="378.8" x2="348.80" y2="399.5" stroke="#ee3848" stroke-width="1.15" opacity="0.93"/>
<rect x="347.10" y="380.7" width="3.4" height="8.8" fill="#ee3848"/>
<line x1="352.61" y1="369.5" x2="352.61" y2="394.5" stroke="#0f9a82" stroke-width="1.15" opacity="0.93"/>
<rect x="350.91" y="383.2" width="3.4" height="5.6" fill="#0f9a82"/>
<line x1="356.43" y1="379.4" x2="356.43" y2="402.6" stroke="#ee3848" stroke-width="1.15" opacity="0.93"/>
<rect x="354.73" y="383.2" width="3.4" height="10.7" fill="#ee3848"/>
<line x1="360.25" y1="390.7" x2="360.25" y2="405.8" stroke="#ee3848" stroke-width="1.15" opacity="0.93"/>
<rect x="358.55" y="393.9" width="3.4" height="7.5" fill="#ee3848"/>
<line x1="364.07" y1="393.9" x2="364.07" y2="421.4" stroke="#ee3848" stroke-width="1.15" opacity="0.93"/>
<rect x="362.37" y="401.4" width="3.4" height="16.9" fill="#ee3848"/>
<line x1="367.89" y1="399.5" x2="367.89" y2="419.0" stroke="#0f9a82" stroke-width="1.15" opacity="0.93"/>
<rect x="366.19" y="410.8" width="3.4" height="7.5" fill="#0f9a82"/>
<line x1="371.70" y1="383.2" x2="371.70" y2="411.5" stroke="#0f9a82" stroke-width="1.15" opacity="0.93"/>
<rect x="370.00" y="384.5" width="3.4" height="26.3" fill="#0f9a82"/>
<line x1="375.52" y1="376.3" x2="375.52" y2="395.0" stroke="#ee3848" stroke-width="1.15" opacity="0.93"/>
<rect x="373.82" y="385.0" width="3.4" height="2.0" fill="#ee3848"/>
<line x1="379.34" y1="366.3" x2="379.34" y2="408.9" stroke="#ee3848" stroke-width="1.15" opacity="0.93"/>
<rect x="377.64" y="386.3" width="3.4" height="19.5" fill="#ee3848"/>
<line x1="383.16" y1="401.4" x2="383.16" y2="411.4" stroke="#ee3848" stroke-width="1.15" opacity="0.93"/>
<rect x="381.46" y="406.0" width="3.4" height="2.9" fill="#ee3848"/>
<line x1="386.98" y1="405.8" x2="386.98" y2="434.6" stroke="#ee3848" stroke-width="1.15" opacity="0.93"/>
<rect x="385.28" y="408.9" width="3.4" height="22.6" fill="#ee3848"/>
<line x1="390.79" y1="397.0" x2="390.79" y2="432.0" stroke="#0f9a82" stroke-width="1.15" opacity="0.93"/>
<rect x="389.09" y="402.0" width="3.4" height="29.5" fill="#0f9a82"/>
<line x1="394.61" y1="351.5" x2="394.61" y2="403.9" stroke="#0f9a82" stroke-width="1.15" opacity="0.93"/>
<rect x="392.91" y="353.0" width="3.4" height="49.0" fill="#0f9a82"/>
<line x1="398.43" y1="348.3" x2="398.43" y2="367.6" stroke="#ee3848" stroke-width="1.15" opacity="0.93"/>
<rect x="396.73" y="353.2" width="3.4" height="7.3" fill="#ee3848"/>
<line x1="402.25" y1="340.0" x2="402.25" y2="361.0" stroke="#0f9a82" stroke-width="1.15" opacity="0.93"/>
<rect x="400.55" y="345.8" width="3.4" height="14.7" fill="#0f9a82"/>
<line x1="406.07" y1="315.7" x2="406.07" y2="354.0" stroke="#0f9a82" stroke-width="1.15" opacity="0.93"/>
<rect x="404.37" y="319.4" width="3.4" height="26.4" fill="#0f9a82"/>
<line x1="409.88" y1="299.4" x2="409.88" y2="345.0" stroke="#ee3848" stroke-width="1.15" opacity="0.93"/>
<rect x="408.18" y="320.0" width="3.4" height="2.8" fill="#ee3848"/>
<line x1="413.70" y1="318.8" x2="413.70" y2="349.5" stroke="#ee3848" stroke-width="1.15" opacity="0.93"/>
<rect x="412.00" y="322.7" width="3.4" height="21.2" fill="#ee3848"/>
<line x1="417.52" y1="341.4" x2="417.52" y2="366.0" stroke="#ee3848" stroke-width="1.15" opacity="0.93"/>
<rect x="415.82" y="343.9" width="3.4" height="8.8" fill="#ee3848"/>
<line x1="421.34" y1="340.8" x2="421.34" y2="360.0" stroke="#ee3848" stroke-width="1.15" opacity="0.93"/>
<rect x="419.64" y="352.7" width="3.4" height="5.5" fill="#ee3848"/>
<line x1="425.16" y1="357.0" x2="425.16" y2="365.8" stroke="#ee3848" stroke-width="1.15" opacity="0.93"/>
<rect x="423.46" y="358.2" width="3.4" height="4.4" fill="#ee3848"/>
<line x1="428.97" y1="351.4" x2="428.97" y2="367.6" stroke="#0f9a82" stroke-width="1.15" opacity="0.93"/>
<rect x="427.27" y="358.5" width="3.4" height="4.1" fill="#0f9a82"/>
<line x1="432.79" y1="343.3" x2="432.79" y2="369.5" stroke="#ee3848" stroke-width="1.15" opacity="0.93"/>
<rect x="431.09" y="359.1" width="3.4" height="5.4" fill="#ee3848"/>
<line x1="436.61" y1="313.5" x2="436.61" y2="366.0" stroke="#0f9a82" stroke-width="1.15" opacity="0.93"/>
<rect x="434.91" y="319.4" width="3.4" height="45.6" fill="#0f9a82"/>
<line x1="440.43" y1="312.6" x2="440.43" y2="333.9" stroke="#ee3848" stroke-width="1.15" opacity="0.93"/>
<rect x="438.73" y="319.4" width="3.4" height="9.4" fill="#ee3848"/>
<line x1="444.25" y1="327.0" x2="444.25" y2="360.2" stroke="#ee3848" stroke-width="1.15" opacity="0.93"/>
<rect x="442.55" y="328.8" width="3.4" height="27.0" fill="#ee3848"/>
<line x1="448.06" y1="348.9" x2="448.06" y2="372.7" stroke="#0f9a82" stroke-width="1.15" opacity="0.93"/>
<rect x="446.36" y="352.0" width="3.4" height="3.8" fill="#0f9a82"/>
<line x1="451.88" y1="341.4" x2="451.88" y2="353.0" stroke="#0f9a82" stroke-width="1.15" opacity="0.93"/>
<rect x="450.18" y="351.2" width="3.4" height="1.1" fill="#0f9a82"/>
<line x1="455.70" y1="348.3" x2="455.70" y2="378.5" stroke="#ee3848" stroke-width="1.15" opacity="0.93"/>
<rect x="454.00" y="351.2" width="3.4" height="26.4" fill="#ee3848"/>
<line x1="459.52" y1="377.0" x2="459.52" y2="415.8" stroke="#ee3848" stroke-width="1.15" opacity="0.93"/>
<rect x="457.82" y="377.6" width="3.4" height="6.9" fill="#ee3848"/>
<line x1="463.34" y1="383.0" x2="463.34" y2="413.3" stroke="#ee3848" stroke-width="1.15" opacity="0.93"/>
<rect x="461.64" y="384.5" width="3.4" height="24.4" fill="#ee3848"/>
<line x1="467.15" y1="380.0" x2="467.15" y2="413.9" stroke="#0f9a82" stroke-width="1.15" opacity="0.93"/>
<rect x="465.45" y="389.8" width="3.4" height="19.1" fill="#0f9a82"/>
<line x1="470.97" y1="386.3" x2="470.97" y2="402.0" stroke="#ee3848" stroke-width="1.15" opacity="0.93"/>
<rect x="469.27" y="389.8" width="3.4" height="8.4" fill="#ee3848"/>
<line x1="474.79" y1="383.8" x2="474.79" y2="406.4" stroke="#0f9a82" stroke-width="1.15" opacity="0.93"/>
<rect x="473.09" y="397.0" width="3.4" height="1.2" fill="#0f9a82"/>
<line x1="478.61" y1="395.0" x2="478.61" y2="401.5" stroke="#ee3848" stroke-width="1.15" opacity="0.93"/>
<rect x="476.91" y="396.6" width="3.4" height="3.3" fill="#ee3848"/>
<line x1="482.43" y1="398.2" x2="482.43" y2="431.4" stroke="#ee3848" stroke-width="1.15" opacity="0.93"/>
<rect x="480.73" y="399.9" width="3.4" height="24.0" fill="#ee3848"/>
<line x1="486.24" y1="400.0" x2="486.24" y2="424.5" stroke="#0f9a82" stroke-width="1.15" opacity="0.93"/>
<rect x="484.54" y="407.9" width="3.4" height="16.0" fill="#0f9a82"/>
<line x1="490.06" y1="393.2" x2="490.06" y2="412.7" stroke="#0f9a82" stroke-width="1.15" opacity="0.93"/>
<rect x="488.36" y="397.0" width="3.4" height="10.6" fill="#0f9a82"/>
<line x1="493.88" y1="391.4" x2="493.88" y2="403.3" stroke="#ee3848" stroke-width="1.15" opacity="0.93"/>
<rect x="492.18" y="397.0" width="3.4" height="2.5" fill="#ee3848"/>
<line x1="497.70" y1="398.5" x2="497.70" y2="438.2" stroke="#ee3848" stroke-width="1.15" opacity="0.93"/>
<rect x="496.00" y="399.5" width="3.4" height="30.0" fill="#ee3848"/>
<line x1="501.52" y1="428.2" x2="501.52" y2="452.0" stroke="#ee3848" stroke-width="1.15" opacity="0.93"/>
<rect x="499.82" y="429.5" width="3.4" height="17.5" fill="#ee3848"/>
<line x1="505.33" y1="445.7" x2="505.33" y2="510.7" stroke="#ee3848" stroke-width="1.15" opacity="0.93"/>
<rect x="503.63" y="447.0" width="3.4" height="33.8" fill="#ee3848"/>
<line x1="509.15" y1="473.8" x2="509.15" y2="498.2" stroke="#ee3848" stroke-width="1.15" opacity="0.93"/>
<rect x="507.45" y="481.3" width="3.4" height="9.4" fill="#ee3848"/>
<line x1="512.97" y1="468.3" x2="512.97" y2="502.6" stroke="#0f9a82" stroke-width="1.15" opacity="0.93"/>
<rect x="511.27" y="473.8" width="3.4" height="16.9" fill="#0f9a82"/>
<line x1="516.79" y1="466.4" x2="516.79" y2="495.1" stroke="#ee3848" stroke-width="1.15" opacity="0.93"/>
<rect x="515.09" y="473.8" width="3.4" height="10.0" fill="#ee3848"/>
<line x1="520.61" y1="469.5" x2="520.61" y2="497.0" stroke="#ee3848" stroke-width="1.15" opacity="0.93"/>
<rect x="518.91" y="483.8" width="3.4" height="6.9" fill="#ee3848"/>
<line x1="524.42" y1="486.3" x2="524.42" y2="543.9" stroke="#ee3848" stroke-width="1.15" opacity="0.93"/>
<rect x="522.72" y="490.7" width="3.4" height="51.3" fill="#ee3848"/>
<line x1="528.24" y1="492.3" x2="528.24" y2="572.0" stroke="#0f9a82" stroke-width="1.15" opacity="0.93"/>
<rect x="526.54" y="503.2" width="3.4" height="38.8" fill="#0f9a82"/>
<line x1="532.06" y1="498.2" x2="532.06" y2="515.0" stroke="#ee3848" stroke-width="1.15" opacity="0.93"/>
<rect x="530.36" y="503.2" width="3.4" height="4.4" fill="#ee3848"/>
<line x1="535.88" y1="502.6" x2="535.88" y2="513.2" stroke="#ee3848" stroke-width="1.15" opacity="0.93"/>
<rect x="534.18" y="507.6" width="3.4" height="3.1" fill="#ee3848"/>
<line x1="539.70" y1="505.7" x2="539.70" y2="523.3" stroke="#0f9a82" stroke-width="1.15" opacity="0.93"/>
<rect x="538.00" y="509.8" width="3.4" height="0.9" fill="#0f9a82"/>
<line x1="543.51" y1="509.0" x2="543.51" y2="522.0" stroke="#ee3848" stroke-width="1.15" opacity="0.93"/>
<rect x="541.81" y="510.0" width="3.4" height="10.8" fill="#ee3848"/>
<line x1="547.33" y1="517.0" x2="547.33" y2="534.5" stroke="#ee3848" stroke-width="1.15" opacity="0.93"/>
<rect x="545.63" y="520.8" width="3.4" height="7.5" fill="#ee3848"/>
<line x1="551.15" y1="510.7" x2="551.15" y2="529.0" stroke="#0f9a82" stroke-width="1.15" opacity="0.93"/>
<rect x="549.45" y="518.2" width="3.4" height="10.1" fill="#0f9a82"/>
<line x1="554.97" y1="504.5" x2="554.97" y2="525.0" stroke="#0f9a82" stroke-width="1.15" opacity="0.93"/>
<rect x="553.27" y="507.0" width="3.4" height="11.2" fill="#0f9a82"/>
<line x1="558.79" y1="471.3" x2="558.79" y2="507.0" stroke="#0f9a82" stroke-width="1.15" opacity="0.93"/>
<rect x="557.09" y="478.6" width="3.4" height="27.7" fill="#0f9a82"/>
<line x1="562.60" y1="470.0" x2="562.60" y2="500.7" stroke="#ee3848" stroke-width="1.15" opacity="0.93"/>
<rect x="560.90" y="478.6" width="3.4" height="17.1" fill="#ee3848"/>
<line x1="566.42" y1="486.3" x2="566.42" y2="501.3" stroke="#0f9a82" stroke-width="1.15" opacity="0.93"/>
<rect x="564.72" y="490.7" width="3.4" height="5.0" fill="#0f9a82"/>
<line x1="570.24" y1="485.7" x2="570.24" y2="500.7" stroke="#ee3848" stroke-width="1.15" opacity="0.93"/>
<rect x="568.54" y="490.7" width="3.4" height="5.7" fill="#ee3848"/>
<line x1="574.06" y1="488.9" x2="574.06" y2="507.6" stroke="#ee3848" stroke-width="1.15" opacity="0.93"/>
<rect x="572.36" y="496.3" width="3.4" height="10.0" fill="#ee3848"/>
<line x1="577.88" y1="501.3" x2="577.88" y2="513.9" stroke="#ee3848" stroke-width="1.15" opacity="0.93"/>
<rect x="576.18" y="505.7" width="3.4" height="0.9" fill="#ee3848"/>
<line x1="581.69" y1="480.7" x2="581.69" y2="510.0" stroke="#0f9a82" stroke-width="1.15" opacity="0.93"/>
<rect x="579.99" y="491.7" width="3.4" height="14.9" fill="#0f9a82"/>
<line x1="585.51" y1="490.0" x2="585.51" y2="498.2" stroke="#ee3848" stroke-width="1.15" opacity="0.93"/>
<rect x="583.81" y="491.7" width="3.4" height="5.7" fill="#ee3848"/>
<line x1="589.33" y1="496.5" x2="589.33" y2="510.7" stroke="#ee3848" stroke-width="1.15" opacity="0.93"/>
<rect x="587.63" y="497.5" width="3.4" height="10.7" fill="#ee3848"/>
<line x1="593.15" y1="503.2" x2="593.15" y2="525.8" stroke="#ee3848" stroke-width="1.15" opacity="0.93"/>
<rect x="591.45" y="508.2" width="3.4" height="11.9" fill="#ee3848"/>
<line x1="596.97" y1="517.0" x2="596.97" y2="530.8" stroke="#ee3848" stroke-width="1.15" opacity="0.93"/>
<rect x="595.27" y="520.1" width="3.4" height="4.4" fill="#ee3848"/>
<line x1="600.78" y1="455.0" x2="600.78" y2="525.2" stroke="#0f9a82" stroke-width="1.15" opacity="0.93"/>
<rect x="599.08" y="475.7" width="3.4" height="48.8" fill="#0f9a82"/>
<line x1="604.60" y1="471.3" x2="604.60" y2="494.4" stroke="#ee3848" stroke-width="1.15" opacity="0.93"/>
<rect x="602.90" y="475.7" width="3.4" height="13.1" fill="#ee3848"/>
<line x1="608.42" y1="477.0" x2="608.42" y2="506.3" stroke="#ee3848" stroke-width="1.15" opacity="0.93"/>
<rect x="606.72" y="488.8" width="3.4" height="12.0" fill="#ee3848"/>
<line x1="612.24" y1="492.0" x2="612.24" y2="523.3" stroke="#0f9a82" stroke-width="1.15" opacity="0.93"/>
<rect x="610.54" y="496.4" width="3.4" height="4.4" fill="#0f9a82"/>
<line x1="616.06" y1="482.6" x2="616.06" y2="510.8" stroke="#ee3848" stroke-width="1.15" opacity="0.93"/>
<rect x="614.36" y="495.7" width="3.4" height="10.1" fill="#ee3848"/>
<line x1="619.87" y1="486.4" x2="619.87" y2="511.3" stroke="#0f9a82" stroke-width="1.15" opacity="0.93"/>
<rect x="618.17" y="501.6" width="3.4" height="4.2" fill="#0f9a82"/>
<line x1="623.69" y1="500.5" x2="623.69" y2="521.3" stroke="#ee3848" stroke-width="1.15" opacity="0.93"/>
<rect x="621.99" y="501.6" width="3.4" height="18.5" fill="#ee3848"/>
<line x1="627.51" y1="491.6" x2="627.51" y2="523.9" stroke="#0f9a82" stroke-width="1.15" opacity="0.93"/>
<rect x="625.81" y="502.0" width="3.4" height="18.1" fill="#0f9a82"/>
<line x1="631.33" y1="500.0" x2="631.33" y2="515.1" stroke="#ee3848" stroke-width="1.15" opacity="0.93"/>
<rect x="629.63" y="502.0" width="3.4" height="9.3" fill="#ee3848"/>
<line x1="635.15" y1="508.2" x2="635.15" y2="527.6" stroke="#ee3848" stroke-width="1.15" opacity="0.93"/>
<rect x="633.45" y="511.3" width="3.4" height="12.6" fill="#ee3848"/>
<line x1="638.96" y1="521.4" x2="638.96" y2="532.6" stroke="#ee3848" stroke-width="1.15" opacity="0.93"/>
<rect x="637.26" y="523.9" width="3.4" height="5.6" fill="#ee3848"/>
<line x1="642.78" y1="526.3" x2="642.78" y2="540.0" stroke="#ee3848" stroke-width="1.15" opacity="0.93"/>
<rect x="641.08" y="529.5" width="3.4" height="6.9" fill="#ee3848"/>
<line x1="646.60" y1="514.5" x2="646.60" y2="537.0" stroke="#0f9a82" stroke-width="1.15" opacity="0.93"/>
<rect x="644.90" y="528.8" width="3.4" height="7.6" fill="#0f9a82"/>
<line x1="650.42" y1="505.1" x2="650.42" y2="529.5" stroke="#0f9a82" stroke-width="1.15" opacity="0.93"/>
<rect x="648.72" y="520.7" width="3.4" height="8.1" fill="#0f9a82"/>
<line x1="654.24" y1="512.6" x2="654.24" y2="526.3" stroke="#0f9a82" stroke-width="1.15" opacity="0.93"/>
<rect x="652.54" y="519.5" width="3.4" height="1.6" fill="#0f9a82"/>
<line x1="658.05" y1="515.0" x2="658.05" y2="525.1" stroke="#0f9a82" stroke-width="1.15" opacity="0.93"/>
<rect x="656.35" y="517.9" width="3.4" height="1.8" fill="#0f9a82"/>
<line x1="661.87" y1="495.7" x2="661.87" y2="519.0" stroke="#0f9a82" stroke-width="1.15" opacity="0.93"/>
<rect x="660.17" y="515.5" width="3.4" height="2.7" fill="#0f9a82"/>
<line x1="665.69" y1="514.5" x2="665.69" y2="523.9" stroke="#ee3848" stroke-width="1.15" opacity="0.93"/>
<rect x="663.99" y="515.5" width="3.4" height="2.7" fill="#ee3848"/>
<line x1="669.51" y1="507.5" x2="669.51" y2="520.7" stroke="#0f9a82" stroke-width="1.15" opacity="0.93"/>
<rect x="667.81" y="508.8" width="3.4" height="9.4" fill="#0f9a82"/>
<line x1="673.33" y1="480.0" x2="673.33" y2="510.0" stroke="#0f9a82" stroke-width="1.15" opacity="0.93"/>
<rect x="671.63" y="484.5" width="3.4" height="24.9" fill="#0f9a82"/>
<line x1="677.14" y1="480.7" x2="677.14" y2="494.5" stroke="#ee3848" stroke-width="1.15" opacity="0.93"/>
<rect x="675.44" y="483.9" width="3.4" height="2.5" fill="#ee3848"/>
<line x1="680.96" y1="478.2" x2="680.96" y2="509.5" stroke="#ee3848" stroke-width="1.15" opacity="0.93"/>
<rect x="679.26" y="486.4" width="3.4" height="18.7" fill="#ee3848"/>
<line x1="684.78" y1="501.7" x2="684.78" y2="519.5" stroke="#ee3848" stroke-width="1.15" opacity="0.93"/>
<rect x="683.08" y="504.4" width="3.4" height="9.4" fill="#ee3848"/>
<line x1="688.60" y1="507.0" x2="688.60" y2="520.1" stroke="#ee3848" stroke-width="1.15" opacity="0.93"/>
<rect x="686.90" y="513.2" width="3.4" height="1.9" fill="#ee3848"/>
<line x1="692.42" y1="513.3" x2="692.42" y2="527.6" stroke="#ee3848" stroke-width="1.15" opacity="0.93"/>
<rect x="690.72" y="515.1" width="3.4" height="10.6" fill="#ee3848"/>
<line x1="696.23" y1="522.6" x2="696.23" y2="537.6" stroke="#ee3848" stroke-width="1.15" opacity="0.93"/>
<rect x="694.53" y="525.7" width="3.4" height="8.8" fill="#ee3848"/>
<line x1="700.05" y1="513.9" x2="700.05" y2="537.6" stroke="#0f9a82" stroke-width="1.15" opacity="0.93"/>
<rect x="698.35" y="520.7" width="3.4" height="13.8" fill="#0f9a82"/>
<line x1="703.87" y1="512.0" x2="703.87" y2="525.0" stroke="#0f9a82" stroke-width="1.15" opacity="0.93"/>
<rect x="702.17" y="515.0" width="3.4" height="5.7" fill="#0f9a82"/>
<line x1="707.69" y1="501.7" x2="707.69" y2="515.5" stroke="#0f9a82" stroke-width="1.15" opacity="0.93"/>
<rect x="705.99" y="510.1" width="3.4" height="4.9" fill="#0f9a82"/>
<line x1="711.51" y1="508.5" x2="711.51" y2="531.4" stroke="#ee3848" stroke-width="1.15" opacity="0.93"/>
<rect x="709.81" y="509.5" width="3.4" height="20.5" fill="#ee3848"/>
<line x1="715.32" y1="527.3" x2="715.32" y2="541.5" stroke="#ee3848" stroke-width="1.15" opacity="0.93"/>
<rect x="713.62" y="529.5" width="3.4" height="11.3" fill="#ee3848"/>
<line x1="719.14" y1="532.0" x2="719.14" y2="541.4" stroke="#ee3848" stroke-width="1.15" opacity="0.93"/>
<rect x="717.44" y="540.3" width="3.4" height="1.0" fill="#ee3848"/>
<line x1="722.96" y1="538.9" x2="722.96" y2="555.2" stroke="#ee3848" stroke-width="1.15" opacity="0.93"/>
<rect x="721.26" y="540.2" width="3.4" height="8.1" fill="#ee3848"/>
<line x1="726.78" y1="532.0" x2="726.78" y2="549.0" stroke="#0f9a82" stroke-width="1.15" opacity="0.93"/>
<rect x="725.08" y="543.9" width="3.4" height="4.4" fill="#0f9a82"/>
<line x1="730.60" y1="537.0" x2="730.60" y2="554.6" stroke="#ee3848" stroke-width="1.15" opacity="0.93"/>
<rect x="728.90" y="544.3" width="3.4" height="1.5" fill="#ee3848"/>
<line x1="734.41" y1="530.2" x2="734.41" y2="546.4" stroke="#0f9a82" stroke-width="1.15" opacity="0.93"/>
<rect x="732.71" y="537.7" width="3.4" height="8.1" fill="#0f9a82"/>
<line x1="738.23" y1="534.5" x2="738.23" y2="554.0" stroke="#ee3848" stroke-width="1.15" opacity="0.93"/>
<rect x="736.53" y="537.0" width="3.4" height="12.0" fill="#ee3848"/>
<line x1="742.05" y1="534.5" x2="742.05" y2="549.0" stroke="#0f9a82" stroke-width="1.15" opacity="0.93"/>
<rect x="740.35" y="540.2" width="3.4" height="8.1" fill="#0f9a82"/>
<line x1="745.87" y1="535.2" x2="745.87" y2="543.3" stroke="#0f9a82" stroke-width="1.15" opacity="0.93"/>
<rect x="744.17" y="538.3" width="3.4" height="2.5" fill="#0f9a82"/>
<line x1="749.69" y1="533.5" x2="749.69" y2="547.7" stroke="#0f9a82" stroke-width="1.15" opacity="0.93"/>
<rect x="747.99" y="534.5" width="3.4" height="4.2" fill="#0f9a82"/>
<line x1="753.50" y1="522.6" x2="753.50" y2="541.4" stroke="#ee3848" stroke-width="1.15" opacity="0.93"/>
<rect x="751.80" y="534.5" width="3.4" height="6.3" fill="#ee3848"/>
<line x1="757.32" y1="515.0" x2="757.32" y2="547.7" stroke="#0f9a82" stroke-width="1.15" opacity="0.93"/>
<rect x="755.62" y="518.9" width="3.4" height="21.9" fill="#0f9a82"/>
<line x1="761.14" y1="517.6" x2="761.14" y2="535.2" stroke="#ee3848" stroke-width="1.15" opacity="0.93"/>
<rect x="759.44" y="519.5" width="3.4" height="15.0" fill="#ee3848"/>
<line x1="764.96" y1="522.0" x2="764.96" y2="538.3" stroke="#0f9a82" stroke-width="1.15" opacity="0.93"/>
<rect x="763.26" y="530.4" width="3.4" height="4.1" fill="#0f9a82"/>
<line x1="768.78" y1="523.9" x2="768.78" y2="535.2" stroke="#0f9a82" stroke-width="1.15" opacity="0.93"/>
<rect x="767.08" y="530.0" width="3.4" height="1.2" fill="#0f9a82"/>
<line x1="772.59" y1="528.3" x2="772.59" y2="539.0" stroke="#ee3848" stroke-width="1.15" opacity="0.93"/>
<rect x="770.89" y="530.2" width="3.4" height="6.0" fill="#ee3848"/>
<line x1="776.41" y1="535.2" x2="776.41" y2="553.3" stroke="#ee3848" stroke-width="1.15" opacity="0.93"/>
<rect x="774.71" y="536.2" width="3.4" height="16.5" fill="#ee3848"/>
<line x1="780.23" y1="536.4" x2="780.23" y2="553.3" stroke="#0f9a82" stroke-width="1.15" opacity="0.93"/>
<rect x="778.53" y="537.0" width="3.4" height="15.7" fill="#0f9a82"/>
<line x1="784.05" y1="535.8" x2="784.05" y2="549.3" stroke="#ee3848" stroke-width="1.15" opacity="0.93"/>
<rect x="782.35" y="536.4" width="3.4" height="12.3" fill="#ee3848"/>
<line x1="787.87" y1="545.2" x2="787.87" y2="549.3" stroke="#ee3848" stroke-width="1.15" opacity="0.93"/>
<rect x="786.17" y="547.7" width="3.4" height="1.0" fill="#ee3848"/>
<g stroke="#e4435a" stroke-width="2.1" stroke-linecap="round" fill="none">
<line x1="493.6" y1="392" x2="830.4" y2="547.9"/>
<line x1="524.5" y1="573.4" x2="830.4" y2="547.9"/>
</g>
<g fill="#4463cc">
<circle cx="161.71" cy="3.7" r="1.15"/>
<circle cx="165.53" cy="12.8" r="1.15"/>
<circle cx="169.35" cy="29.6" r="1.15"/>
<circle cx="173.17" cy="54.6" r="1.15"/>
<circle cx="176.99" cy="75.7" r="1.15"/>
<circle cx="180.80" cy="94.6" r="1.15"/>
<circle cx="184.62" cy="233.6" r="1.15"/>
<circle cx="188.44" cy="230.8" r="1.15"/>
<circle cx="192.26" cy="228.2" r="1.15"/>
<circle cx="196.08" cy="222.9" r="1.15"/>
<circle cx="199.89" cy="214.7" r="1.15"/>
<circle cx="203.71" cy="206.6" r="1.15"/>
<circle cx="207.53" cy="86.1" r="1.15"/>
<circle cx="211.35" cy="89.6" r="1.15"/>
<circle cx="215.17" cy="92.3" r="1.15"/>
<circle cx="218.98" cy="99.0" r="1.15"/>
<circle cx="222.80" cy="109.2" r="1.15"/>
<circle cx="226.62" cy="122.9" r="1.15"/>
<circle cx="230.44" cy="140.2" r="1.15"/>
<circle cx="234.26" cy="160.7" r="1.15"/>
<circle cx="238.07" cy="189.2" r="1.15"/>
<circle cx="241.89" cy="213.2" r="1.15"/>
<circle cx="245.71" cy="234.6" r="1.15"/>
<circle cx="249.53" cy="252.4" r="1.15"/>
<circle cx="253.35" cy="267.9" r="1.15"/>
<circle cx="257.16" cy="281.2" r="1.15"/>
<circle cx="260.98" cy="293.1" r="1.15"/>
<circle cx="264.80" cy="297.6" r="1.15"/>
<circle cx="268.62" cy="300.4" r="1.15"/>
<circle cx="272.44" cy="308.9" r="1.15"/>
<circle cx="276.25" cy="383.0" r="1.15"/>
<circle cx="280.07" cy="383.0" r="1.15"/>
<circle cx="283.89" cy="378.7" r="1.15"/>
<circle cx="287.71" cy="372.4" r="1.15"/>
<circle cx="291.53" cy="367.0" r="1.15"/>
<circle cx="295.34" cy="361.4" r="1.15"/>
<circle cx="299.16" cy="356.3" r="1.15"/>
<circle cx="302.98" cy="351.4" r="1.15"/>
<circle cx="306.80" cy="342.6" r="1.15"/>
<circle cx="310.62" cy="241.4" r="1.15"/>
<circle cx="314.43" cy="243.0" r="1.15"/>
<circle cx="318.25" cy="246.8" r="1.15"/>
<circle cx="322.07" cy="250.5" r="1.15"/>
<circle cx="325.89" cy="257.2" r="1.15"/>
<circle cx="329.71" cy="266.7" r="1.15"/>
<circle cx="333.52" cy="275.1" r="1.15"/>
<circle cx="337.34" cy="287.0" r="1.15"/>
<circle cx="341.16" cy="302.4" r="1.15"/>
<circle cx="344.98" cy="315.7" r="1.15"/>
<circle cx="348.80" cy="327.3" r="1.15"/>
<circle cx="352.61" cy="338.2" r="1.15"/>
<circle cx="356.43" cy="347.3" r="1.15"/>
<circle cx="360.25" cy="355.2" r="1.15"/>
<circle cx="364.07" cy="362.3" r="1.15"/>
<circle cx="367.89" cy="370.8" r="1.15"/>
<circle cx="371.70" cy="377.6" r="1.15"/>
<circle cx="375.52" cy="422.0" r="1.15"/>
<circle cx="379.34" cy="421.2" r="1.15"/>
<circle cx="383.16" cy="418.7" r="1.15"/>
<circle cx="386.98" cy="366.3" r="1.15"/>
<circle cx="390.79" cy="368.0" r="1.15"/>
<circle cx="394.61" cy="435.0" r="1.15"/>
<circle cx="398.43" cy="433.3" r="1.15"/>
<circle cx="402.25" cy="430.0" r="1.15"/>
<circle cx="406.07" cy="424.4" r="1.15"/>
<circle cx="409.88" cy="416.0" r="1.15"/>
<circle cx="413.70" cy="404.0" r="1.15"/>
<circle cx="417.52" cy="393.9" r="1.15"/>
<circle cx="421.34" cy="384.3" r="1.15"/>
<circle cx="425.16" cy="376.0" r="1.15"/>
<circle cx="428.97" cy="368.4" r="1.15"/>
<circle cx="432.79" cy="299.4" r="1.15"/>
<circle cx="436.61" cy="301.3" r="1.15"/>
<circle cx="440.43" cy="302.5" r="1.15"/>
<circle cx="444.25" cy="303.8" r="1.15"/>
<circle cx="448.06" cy="305.4" r="1.15"/>
<circle cx="451.88" cy="307.5" r="1.15"/>
<circle cx="455.70" cy="310.3" r="1.15"/>
<circle cx="459.52" cy="314.8" r="1.15"/>
<circle cx="463.34" cy="322.8" r="1.15"/>
<circle cx="467.15" cy="330.4" r="1.15"/>
<circle cx="470.97" cy="336.9" r="1.15"/>
<circle cx="474.79" cy="343.6" r="1.15"/>
<circle cx="478.61" cy="348.9" r="1.15"/>
<circle cx="482.43" cy="354.3" r="1.15"/>
<circle cx="486.24" cy="362.3" r="1.15"/>
<circle cx="490.06" cy="369.0" r="1.15"/>
<circle cx="493.88" cy="375.5" r="1.15"/>
<circle cx="497.70" cy="381.0" r="1.15"/>
<circle cx="501.52" cy="387.6" r="1.15"/>
<circle cx="509.15" cy="415.5" r="1.15"/>
<circle cx="512.97" cy="430.7" r="1.15"/>
<circle cx="516.79" cy="443.8" r="1.15"/>
<circle cx="520.61" cy="454.5" r="1.15"/>
<circle cx="524.42" cy="463.6" r="1.15"/>
<circle cx="528.24" cy="469.3" r="1.15"/>
<circle cx="532.06" cy="486.0" r="1.15"/>
<circle cx="535.88" cy="572.4" r="1.15"/>
<circle cx="539.70" cy="571.0" r="1.15"/>
<circle cx="543.51" cy="570.0" r="1.15"/>
<circle cx="547.33" cy="568.9" r="1.15"/>
<circle cx="551.15" cy="567.2" r="1.15"/>
<circle cx="554.97" cy="566.0" r="1.15"/>
<circle cx="558.79" cy="564.2" r="1.15"/>
<circle cx="562.60" cy="560.5" r="1.15"/>
<circle cx="566.42" cy="555.5" r="1.15"/>
<circle cx="570.24" cy="550.1" r="1.15"/>
<circle cx="574.06" cy="545.5" r="1.15"/>
<circle cx="577.88" cy="540.8" r="1.15"/>
<circle cx="581.69" cy="536.3" r="1.15"/>
<circle cx="585.51" cy="532.6" r="1.15"/>
<circle cx="589.33" cy="529.0" r="1.15"/>
<circle cx="593.15" cy="470.2" r="1.15"/>
<circle cx="596.97" cy="471.0" r="1.15"/>
<circle cx="600.78" cy="531.0" r="1.15"/>
<circle cx="604.60" cy="531.0" r="1.15"/>
<circle cx="608.42" cy="528.8" r="1.15"/>
<circle cx="612.24" cy="527.5" r="1.15"/>
<circle cx="616.06" cy="526.1" r="1.15"/>
<circle cx="619.87" cy="524.8" r="1.15"/>
<circle cx="623.69" cy="523.1" r="1.15"/>
<circle cx="627.51" cy="455.3" r="1.15"/>
<circle cx="631.33" cy="456.3" r="1.15"/>
<circle cx="635.15" cy="457.5" r="1.15"/>
<circle cx="638.96" cy="460.7" r="1.15"/>
<circle cx="642.78" cy="465.0" r="1.15"/>
<circle cx="646.60" cy="470.7" r="1.15"/>
<circle cx="650.42" cy="476.7" r="1.15"/>
<circle cx="654.24" cy="482.0" r="1.15"/>
<circle cx="658.05" cy="486.6" r="1.15"/>
<circle cx="661.87" cy="490.9" r="1.15"/>
<circle cx="665.69" cy="494.5" r="1.15"/>
<circle cx="669.51" cy="495.5" r="1.15"/>
<circle cx="673.33" cy="540.5" r="1.15"/>
<circle cx="677.14" cy="539.2" r="1.15"/>
<circle cx="680.96" cy="537.4" r="1.15"/>
<circle cx="684.78" cy="535.4" r="1.15"/>
<circle cx="688.60" cy="533.0" r="1.15"/>
<circle cx="692.42" cy="530.4" r="1.15"/>
<circle cx="696.23" cy="478.0" r="1.15"/>
<circle cx="700.05" cy="479.6" r="1.15"/>
<circle cx="703.87" cy="482.0" r="1.15"/>
<circle cx="707.69" cy="484.0" r="1.15"/>
<circle cx="711.51" cy="486.0" r="1.15"/>
<circle cx="715.32" cy="488.4" r="1.15"/>
<circle cx="719.14" cy="491.3" r="1.15"/>
<circle cx="722.96" cy="495.7" r="1.15"/>
<circle cx="726.78" cy="501.3" r="1.15"/>
<circle cx="730.60" cy="507.2" r="1.15"/>
<circle cx="734.41" cy="512.0" r="1.15"/>
<circle cx="738.23" cy="516.7" r="1.15"/>
<circle cx="742.05" cy="520.5" r="1.15"/>
<circle cx="745.87" cy="524.1" r="1.15"/>
<circle cx="749.69" cy="527.4" r="1.15"/>
<circle cx="753.50" cy="556.7" r="1.15"/>
<circle cx="757.32" cy="555.8" r="1.15"/>
<circle cx="761.14" cy="554.3" r="1.15"/>
<circle cx="764.96" cy="552.3" r="1.15"/>
<circle cx="768.78" cy="550.8" r="1.15"/>
<circle cx="772.59" cy="549.2" r="1.15"/>
<circle cx="776.41" cy="514.9" r="1.15"/>
<circle cx="780.23" cy="516.0" r="1.15"/>
<circle cx="784.05" cy="516.6" r="1.15"/>
<circle cx="787.87" cy="517.2" r="1.15"/>
</g>
</g>
<g filter="url(#bt)">
<g font-size="12" fill="#555" stroke="#555" stroke-width="0.35" letter-spacing="0.25">
<text x="963" y="36.5">0.6500</text>
<text x="963" y="99.5">0.6000</text>
<text x="963" y="162.4">0.5500</text>
<text x="963" y="225.4">0.5000</text>
<text x="963" y="288.3">0.4500</text>
<text x="963" y="351.2">0.4000</text>
<text x="963" y="414.2">0.3500</text>
<text x="963" y="603.1">0.2000</text>
<text x="963" y="666.0">0.1500</text>
</g>
<rect x="957" y="-2" width="60" height="26" rx="2" fill="#fff" stroke="#f2f2f2" stroke-width="1"/>
<text x="966.6" y="16.9" font-size="12" fill="#2e2e2e" stroke="#2e2e2e" stroke-width="0.45" textLength="23.3" lengthAdjust="spacingAndGlyphs">USD</text>
<g font-size="12" fill="#3c3c3c" stroke="#3c3c3c" stroke-width="0.25">
<text x="30.2" y="695.3" textLength="18.3" lengthAdjust="spacingAndGlyphs">Oct</text>
<text x="147.6" y="695.3" textLength="20.3" lengthAdjust="spacingAndGlyphs">Nov</text>
<text x="262" y="695.3" textLength="20.3" lengthAdjust="spacingAndGlyphs">Dec</text>
<text x="376.1" y="695.3" textLength="29.7" lengthAdjust="spacingAndGlyphs" font-weight="bold" fill="#1e1e1e" stroke="none">2026</text>
<text x="499.9" y="695.3" textLength="18.8" lengthAdjust="spacingAndGlyphs">Feb</text>
<text x="606.4" y="695.3" textLength="19.9" lengthAdjust="spacingAndGlyphs">Mar</text>
<text x="725.5" y="695.3" textLength="18.0" lengthAdjust="spacingAndGlyphs">Apr</text>
<text x="838.4" y="695.3" textLength="21.9" lengthAdjust="spacingAndGlyphs">May</text>
</g>
<rect x="955.2" y="344" width="51.6" height="15.4" rx="2" fill="#0808f0"/>
<text x="963" y="355.7" font-size="11.3" fill="#ffffff" stroke="#ffffff" stroke-width="0.2" textLength="38" lengthAdjust="spacing">0.3963</text>
<rect x="955.2" y="460.1" width="51.6" height="16.4" rx="2" fill="#08f0f2"/>
<text x="963" y="472.3" font-size="11.3" fill="#0b6b6b" stroke="#0b6b6b" stroke-width="0.2" textLength="38" lengthAdjust="spacing">0.3033</text>
<rect x="955.2" y="492.8" width="51.6" height="15.8" rx="2" fill="#2d62f5"/>
<text x="963" y="504.7" font-size="11.3" fill="#ffffff" stroke="#ffffff" stroke-width="0.2" textLength="38" lengthAdjust="spacing">0.2644</text>
<rect x="955.2" y="508.3" width="51.6" height="16.1" rx="2" fill="#ff8205"/>
<text x="963" y="520.4" font-size="11.3" fill="#fff3dd" stroke="#fff3dd" stroke-width="0.2" textLength="38" lengthAdjust="spacing">0.2625</text>
<rect x="955.2" y="524.4" width="51.6" height="16.2" rx="2" fill="#fa0510"/>
<text x="963" y="536.5" font-size="11.3" fill="#ffffff" stroke="#ffffff" stroke-width="0.2" textLength="38" lengthAdjust="spacing">0.2490</text>
<rect x="899.9" y="540.4" width="55" height="15.7" rx="2" fill="#ef3a50"/>
<rect x="954.3" y="540.4" width="1" height="15.7" fill="#f57a88"/>
<text x="904.5" y="552.2" font-size="11" fill="#ffffff" stroke="#fff" stroke-width="0.2">ADAUSD</text>
<rect x="955.2" y="540.4" width="61.7" height="15.7" rx="2" fill="#f0445a"/>
<text x="964" y="552.4" font-size="11.3" fill="#ffd9de" textLength="47" lengthAdjust="spacing">18:12:29</text>
<g font-size="11.4" stroke-width="0.45">
<text x="12.5" y="15.35" fill="#2e2e2e" stroke="#2e2e2e" textLength="185.5" lengthAdjust="spacingAndGlyphs">Cardano / US Dollar · 1D · Coinbase</text>
<text x="206" y="15.35" fill="#2e2e2e" stroke="#2e2e2e" textLength="8.6" lengthAdjust="spacingAndGlyphs">O</text>
<text x="215" y="15.35" fill="#dc4f5e" stroke="#dc4f5e" textLength="36.4" lengthAdjust="spacingAndGlyphs">0.2398</text>
<text x="259" y="15.35" fill="#2e2e2e" stroke="#2e2e2e" textLength="7.8" lengthAdjust="spacingAndGlyphs">H</text>
<text x="266.8" y="15.35" fill="#dc4f5e" stroke="#dc4f5e" textLength="36.2" lengthAdjust="spacingAndGlyphs">0.2421</text>
<text x="309.6" y="15.35" fill="#2e2e2e" stroke="#2e2e2e" textLength="5.4" lengthAdjust="spacingAndGlyphs">L</text>
<text x="315.2" y="15.35" fill="#dc4f5e" stroke="#dc4f5e" textLength="36.2" lengthAdjust="spacingAndGlyphs">0.2391</text>
<text x="358.3" y="15.35" fill="#2e2e2e" stroke="#2e2e2e" textLength="8.7" lengthAdjust="spacingAndGlyphs">C</text>
<text x="367.8" y="15.35" fill="#dc4f5e" stroke="#dc4f5e" textLength="36.4" lengthAdjust="spacingAndGlyphs">0.2396</text>
<text x="410.6" y="15.35" fill="#dc4f5e" stroke="#dc4f5e" textLength="95.4" lengthAdjust="spacingAndGlyphs">−0.0001 (−0.04%)</text>
<text x="12.5" y="31.6" fill="#2e2e2e" stroke="#2e2e2e" textLength="109.5" lengthAdjust="spacingAndGlyphs">SAR (0.02, 0.02, 0.2)</text>
<text x="129" y="31.6" fill="#4a6fe0" stroke="#4a6fe0" textLength="37.7" lengthAdjust="spacingAndGlyphs">0.2644</text>
<text x="12.5" y="47.45" fill="#2e2e2e" stroke="#2e2e2e" textLength="105.3" lengthAdjust="spacingAndGlyphs">EMA 20/50/100/200</text>
<text x="125.3" y="47.45" fill="#e03540" stroke="#e03540" textLength="36.4" lengthAdjust="spacingAndGlyphs">0.2490</text>
<text x="170.4" y="47.45" fill="#e8a04a" stroke="#e8a04a" textLength="35.6" lengthAdjust="spacingAndGlyphs">0.2625</text>
<text x="213.8" y="47.45" fill="#4fdfe3" stroke="#4fdfe3" textLength="36.2" lengthAdjust="spacingAndGlyphs">0.3033</text>
<text x="258" y="47.45" fill="#3a36c8" stroke="#3a36c8" textLength="37.2" lengthAdjust="spacingAndGlyphs">0.3963</text>
</g>
</g>
</svg></body></html>
